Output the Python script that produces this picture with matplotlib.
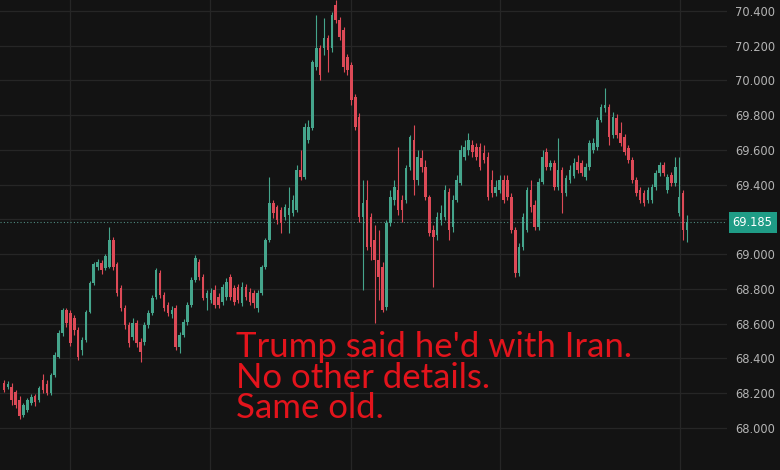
import numpy as np
import matplotlib
matplotlib.use("Agg")
import matplotlib.pyplot as plt

# ---- data ----
opens = [68.259, 68.236, 68.236, 68.207, 68.161, 68.075, 68.104, 68.144, 68.184, 68.161,
         68.276, 68.253, 68.201, 68.305, 68.409, 68.547, 68.679, 68.662, 68.633, 68.564,
         68.449, 68.506, 68.667, 68.834, 68.926, 68.950, 68.921, 68.926, 69.082, 68.944,
         68.806, 68.690, 68.593, 68.524, 68.604, 68.495, 68.495, 68.593, 68.662, 68.754,
         68.892, 68.765, 68.708, 68.656, 68.690, 68.466, 68.535, 68.610, 68.708, 68.852,
         68.955, 68.869, 68.748, 68.737, 68.794, 68.754, 68.725, 68.754, 68.869, 68.806,
         68.811, 68.719, 68.811, 68.783, 68.777, 68.690, 68.777, 68.926, 69.082, 69.295,
         69.272, 69.255, 69.214, 69.226, 69.237, 69.255, 69.485, 69.444, 69.657, 69.726,
         70.077, 70.187, 70.187, 70.244, 70.187, 70.434, 70.348, 70.290, 70.135, 70.089,
         69.905, 69.790, 69.214, 69.312, 69.214, 69.082, 68.967, 68.926, 68.696, 69.180,
         69.312, 69.370, 69.312, 69.312, 69.502, 69.657, 69.427, 69.554, 69.502, 69.329,
         69.139, 69.111, 69.197, 69.214, 69.358, 69.157, 69.312, 69.410, 69.559, 69.600,
         69.629, 69.617, 69.617, 69.582, 69.559, 69.427, 69.352, 69.370, 69.427, 69.427,
         69.329, 69.139, 68.892, 69.042, 69.139, 69.370, 69.283, 69.157, 69.416, 69.588,
         69.502, 69.525, 69.387, 69.485, 69.352, 69.427, 69.450, 69.531, 69.525, 69.444,
         69.502, 69.600, 69.617, 69.772, 69.841, 69.847, 69.686, 69.784, 69.698, 69.675,
         69.611, 69.542, 69.427, 69.370, 69.352, 69.312, 69.312, 69.387, 69.467, 69.513,
         69.370, 69.456, 69.410, 69.237, 69.352, 69.139]
highs = [68.276, 68.270, 68.259, 68.219, 68.184, 68.144, 68.173, 68.196, 68.196, 68.242,
         68.311, 68.276, 68.316, 68.437, 68.564, 68.690, 68.690, 68.679, 68.650, 68.581,
         68.524, 68.679, 68.846, 68.955, 68.973, 68.967, 69.001, 69.157, 69.099, 68.955,
         68.823, 68.708, 68.610, 68.633, 68.621, 68.518, 68.610, 68.679, 68.765, 68.921,
         68.909, 68.783, 68.725, 68.702, 68.708, 68.552, 68.627, 68.725, 68.869, 68.995,
         68.973, 68.886, 68.794, 68.806, 68.823, 68.777, 68.829, 68.863, 68.886, 68.823,
         68.829, 68.840, 68.829, 68.806, 68.794, 68.794, 68.938, 69.093, 69.444, 69.312,
         69.283, 69.272, 69.289, 69.387, 69.341, 69.513, 69.600, 69.755, 69.772, 70.118,
         70.377, 70.204, 70.360, 70.262, 70.394, 70.463, 70.365, 70.308, 70.152, 70.106,
         69.922, 69.813, 69.427, 69.427, 69.237, 69.168, 69.139, 68.955, 69.197, 69.370,
         69.427, 69.617, 69.341, 69.513, 69.686, 69.744, 69.600, 69.600, 69.542, 69.341,
         69.168, 69.243, 69.283, 69.398, 69.381, 69.341, 69.456, 69.629, 69.657, 69.698,
         69.657, 69.640, 69.640, 69.629, 69.588, 69.485, 69.427, 69.456, 69.456, 69.456,
         69.352, 69.157, 69.065, 69.237, 69.387, 69.427, 69.312, 69.439, 69.600, 69.611,
         69.542, 69.542, 69.669, 69.502, 69.456, 69.513, 69.554, 69.571, 69.542, 69.525,
         69.657, 69.669, 69.790, 69.864, 69.957, 69.864, 69.818, 69.807, 69.761, 69.692,
         69.629, 69.559, 69.444, 69.387, 69.370, 69.387, 69.404, 69.485, 69.531, 69.531,
         69.462, 69.473, 69.559, 69.559, 69.370, 69.226]
lows = [68.207, 68.224, 68.132, 68.115, 68.052, 68.063, 68.092, 68.132, 68.127, 68.150,
        68.201, 68.190, 68.190, 68.293, 68.403, 68.529, 68.581, 68.472, 68.535, 68.391,
        68.420, 68.495, 68.662, 68.823, 68.909, 68.886, 68.909, 68.921, 68.909, 68.760,
        68.673, 68.570, 68.466, 68.506, 68.466, 68.380, 68.478, 68.575, 68.650, 68.742,
        68.748, 68.673, 68.644, 68.633, 68.449, 68.432, 68.524, 68.593, 68.696, 68.840,
        68.852, 68.737, 68.679, 68.719, 68.690, 68.690, 68.708, 68.737, 68.737, 68.708,
        68.719, 68.702, 68.737, 68.708, 68.690, 68.667, 68.765, 68.915, 69.070, 69.209,
        69.174, 69.122, 69.197, 69.122, 69.220, 69.243, 69.427, 69.433, 69.640, 69.715,
        70.060, 70.003, 70.146, 70.049, 70.164, 70.331, 70.233, 70.049, 70.031, 69.859,
        69.715, 69.185, 68.794, 69.024, 68.967, 68.604, 68.737, 68.667, 68.679, 69.162,
        69.283, 69.226, 69.185, 69.295, 69.485, 69.341, 69.398, 69.473, 69.312, 69.105,
        68.811, 69.082, 69.168, 69.197, 69.082, 69.128, 69.301, 69.398, 69.542, 69.571,
        69.559, 69.542, 69.485, 69.525, 69.312, 69.329, 69.335, 69.352, 69.295, 69.312,
        69.122, 68.869, 68.875, 69.024, 69.128, 69.243, 69.139, 69.139, 69.404, 69.485,
        69.485, 69.370, 69.370, 69.237, 69.335, 69.410, 69.439, 69.467, 69.450, 69.427,
        69.485, 69.582, 69.600, 69.761, 69.818, 69.629, 69.669, 69.669, 69.623, 69.571,
        69.525, 69.410, 69.335, 69.295, 69.278, 69.295, 69.295, 69.370, 69.450, 69.450,
        69.352, 69.393, 69.393, 69.220, 69.082, 69.070]
closes = [68.219, 68.253, 68.161, 68.132, 68.069, 68.132, 68.161, 68.178, 68.150, 68.230,
          68.219, 68.201, 68.305, 68.420, 68.547, 68.679, 68.604, 68.489, 68.564, 68.409,
          68.506, 68.667, 68.834, 68.944, 68.955, 68.909, 68.990, 69.082, 68.926, 68.777,
          68.690, 68.593, 68.489, 68.604, 68.489, 68.437, 68.593, 68.662, 68.748, 68.909,
          68.765, 68.690, 68.662, 68.679, 68.466, 68.535, 68.610, 68.708, 68.852, 68.978,
          68.869, 68.748, 68.777, 68.777, 68.708, 68.708, 68.811, 68.840, 68.754, 68.725,
          68.737, 68.811, 68.754, 68.725, 68.719, 68.777, 68.926, 69.082, 69.295, 69.237,
          69.197, 69.180, 69.272, 69.266, 69.312, 69.485, 69.444, 69.732, 69.732, 70.106,
          70.187, 70.031, 70.244, 70.175, 70.377, 70.348, 70.250, 70.077, 70.060, 69.888,
          69.732, 69.214, 69.295, 69.042, 69.042, 68.967, 68.869, 68.679, 69.180, 69.329,
          69.387, 69.255, 69.255, 69.496, 69.675, 69.427, 69.559, 69.502, 69.329, 69.122,
          69.099, 69.214, 69.237, 69.370, 69.139, 69.312, 69.427, 69.600, 69.617, 69.657,
          69.588, 69.559, 69.502, 69.542, 69.329, 69.352, 69.387, 69.427, 69.312, 69.329,
          69.139, 68.892, 69.042, 69.214, 69.370, 69.272, 69.157, 69.416, 69.559, 69.502,
          69.525, 69.387, 69.485, 69.352, 69.439, 69.485, 69.525, 69.485, 69.467, 69.502,
          69.640, 69.640, 69.772, 69.847, 69.859, 69.675, 69.790, 69.686, 69.640, 69.588,
          69.542, 69.427, 69.352, 69.312, 69.295, 69.370, 69.387, 69.467, 69.513, 69.467,
          69.444, 69.410, 69.502, 69.329, 69.139, 69.185]

last_price = 69.185
price_ticks = [68.0, 68.2, 68.4, 68.6, 68.8, 69.0, 69.2, 69.4, 69.6, 69.8, 70.0, 70.2, 70.4]
price_tick_labels = ["68.000", "68.200", "68.400", "68.600", "68.800", "69.000", "",
                     "69.400", "69.600", "69.800", "70.000", "70.200", "70.400"]
session_breaks = [16.9, 52.8, 88.9, 127.1, 173.2]
note = "Trump said he'd with Iran.\nNo other details.\nSame old."

# ---- style ----
BG = "#131313"
GRID = "#262626"
UP = "#45a58c"
DOWN = "#dd4a57"

fig = plt.figure(figsize=(7.8, 4.7), dpi=100, facecolor=BG)
ax = fig.add_axes([0, 0, 727 / 780, 1])
ax.set_facecolor(BG)

o = np.array(opens); h = np.array(highs); l = np.array(lows); c = np.array(closes)
x = np.arange(len(o))
up = c >= o
cols = np.where(up, UP, DOWN)

ax.vlines(x, l, h, colors=cols, linewidth=0.8, zorder=3)
body_bottom = np.minimum(o, c)
body_h = np.maximum(np.abs(c - o), 0.006)
ax.bar(x, body_h, bottom=body_bottom, width=0.66, color=cols, linewidth=0, zorder=4)

ax.set_xlim(-1.02, 185.25)
ax.set_ylim(70.463 - 470 * 0.005755, 70.463)

ax.set_yticks(price_ticks)
ax.set_yticklabels(price_tick_labels)
ax.set_xticks(session_breaks)
ax.set_xticklabels([])
ax.grid(True, color=GRID, linewidth=0.9, zorder=0)
ax.yaxis.tick_right()
ax.tick_params(axis="y", length=0, pad=6, labelsize=8.3, labelcolor="#b4b4b4")
ax.tick_params(axis="x", length=0)
for s in ax.spines.values():
    s.set_visible(False)

# last price line and label
ax.axhline(last_price, color="#4f8a80", linewidth=0.8, linestyle=(0, (1, 2)), zorder=2)
ax.annotate(f"{last_price:.3f}", xy=(1.0, last_price), xycoords=("axes fraction", "data"),
            xytext=(4, 0), textcoords="offset points", va="center", ha="left",
            fontsize=8.3, color="#ffffff",
            bbox=dict(boxstyle="square,pad=0.35", facecolor="#1f9c86", edgecolor="none"),
            annotation_clip=False, zorder=6)

# red note
fig.text(236 / 780, 1 - 331 / 470, note, family=["Lato", "DejaVu Sans"], fontsize=25,
         color="#e3141c", va="top", ha="left", linespacing=0.95)

fig.savefig("out.png", dpi=100, facecolor=BG)
